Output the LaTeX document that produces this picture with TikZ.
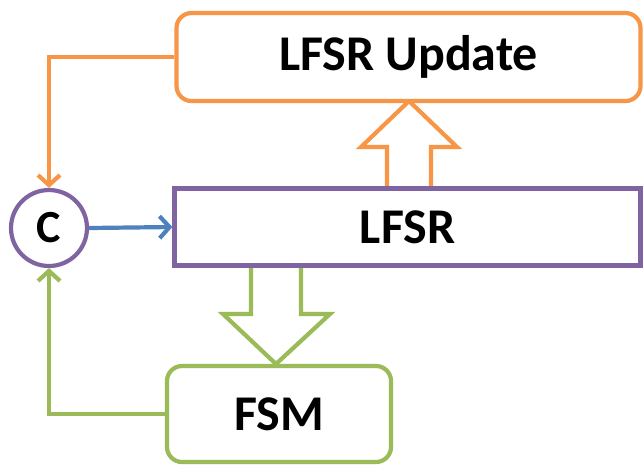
\documentclass[tikz,border=0pt]{standalone}
\usepackage{fontspec}
\setmainfont{Carlito}
\usetikzlibrary{arrows.meta}
\definecolor{orangeC}{HTML}{F79646}
\definecolor{purpleC}{HTML}{8064A2}
\definecolor{greenC}{HTML}{9BBB59}
\definecolor{blueC}{HTML}{4F81BD}
\tikzset{
  box/.style={draw, line width=4.2pt, fill=white, text=black, inner sep=0pt, font=\fontsize{50}{54}\selectfont\bfseries},
  link/.style={line width=4.2pt, -{Straight Barb[length=10pt,width=22pt,line width=4.2pt]}},
  fat/.style={line width=4.2pt, line join=miter, fill=white},
}
\begin{document}
\begin{tikzpicture}[x=1pt,y=-1pt]
\useasboundingbox (0,0) rectangle (644,467);
% hollow arrows between the blocks
\draw[fat, draw=orangeC] (387,188) -- (387,147) -- (361,147) -- (409,101) -- (457,147) -- (431,147) -- (431,188);
\draw[fat, draw=greenC] (251,265) -- (251,314) -- (223,314) -- (276,364) -- (330,314) -- (301,314) -- (301,265);
% blocks
\node[box, draw=orangeC, rounded corners=15pt, minimum width=464pt, minimum height=88pt] (upd) at (408.5,57) {LFSR Update};
\node[box, draw=purpleC, minimum width=466pt, minimum height=77pt] (lfsr) at (407.5,227) {LFSR};
\node[box, draw=greenC, rounded corners=15pt, minimum width=224pt, minimum height=96pt] (fsm) at (279,414) {\raisebox{-2pt}{FSM}};
\node[box, draw=purpleC, circle, minimum size=76pt, font=\fontsize{46}{48}\selectfont\bfseries] (c) at (49,228) {C};
% connectors
\draw[link, draw=orangeC] (upd.west) -| (c.north);
\draw[link, draw=greenC] (fsm.west) -| (c.south);
\draw[link, draw=blueC] (c.east) -- (lfsr.west);
\end{tikzpicture}
\end{document}
